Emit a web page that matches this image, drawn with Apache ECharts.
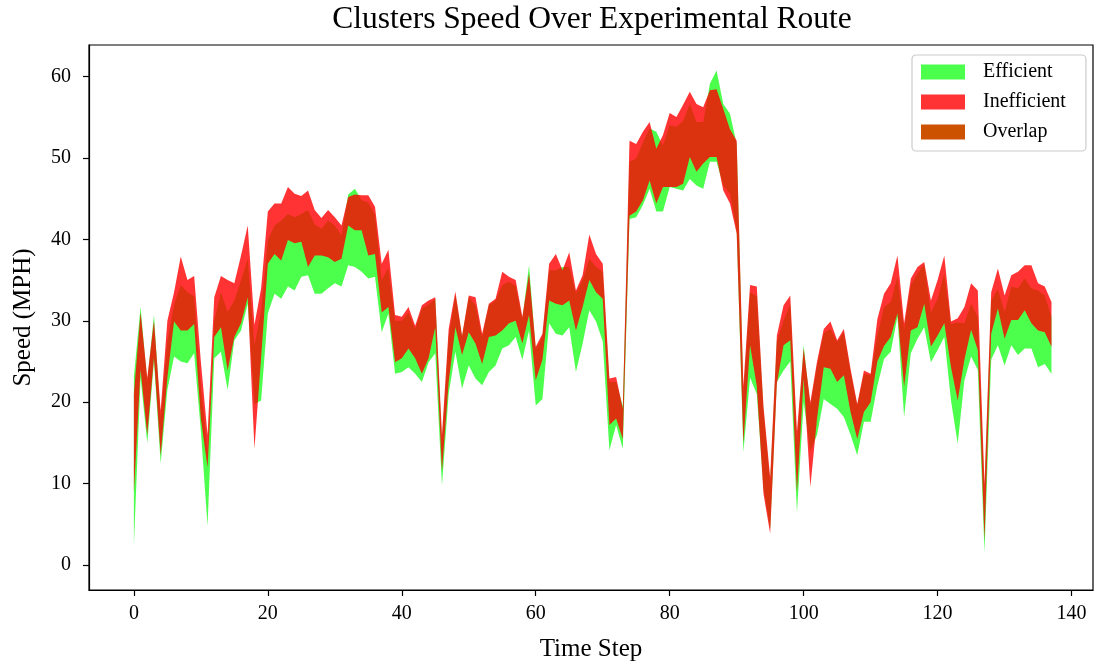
<!DOCTYPE html>
<html>
<head>
<meta charset="utf-8">
<script src="https://cdn.jsdelivr.net/npm/echarts@6/dist/echarts.min.js"></script>
<style>
  html, body { margin: 0; padding: 0; background: #fff; }
  #chart { width: 1096px; height: 664px; }
</style>
</head>
<body>
<div id="chart"></div>
<script>
// ---- Data (time step = array index) ----
const efficientLow = [
  2.4, 23, 15, 25, 12.5, 21.5, 25.6, 25, 24.8, 26,
  16.5, 4.8, 25.4, 26.2, 21.5, 27.6, 28.8, 32.1, 19.8, 20.2,
  30.9, 33.3, 32.7, 34.2, 33.7, 35.4, 35.6, 33.3, 33.3, 34,
  34.6, 34.2, 36.8, 36.6, 36, 35.2, 35.4, 28.6, 30.9, 23.5,
  23.7, 24.3, 23.5, 22.5, 24.9, 26, 9.8, 21, 26.2, 21.7,
  24.5, 22.9, 22.1, 23.7, 24.5, 26.6, 27, 28, 25.2, 28.8,
  19.6, 20.4, 29.7, 28.4, 28.2, 29.2, 23.7, 27.2, 31.3, 29.9,
  27.5, 14.1, 17.2, 14.3, 42.5, 42.7, 44.2, 46.2, 43.4, 43.4,
  46.4, 46.2, 46, 47.4, 46.6, 46.2, 49.5, 49.5, 46.6, 45.6,
  41.1, 13.9, 23, 21, 9.5, 4.5, 22.5, 23.9, 25, 6.5,
  20, 14, 16, 20.4, 19.8, 19.2, 18.2, 16, 13.5, 17.6,
  17.6, 22, 25.3, 26.2, 30.5, 18.2, 26, 27.8, 29.2, 24.9,
  26.4, 28, 20.2, 14.9, 22.7, 25.6, 24, 1.6, 25.2, 27,
  24.5, 27, 25.8, 26.6, 26.6, 24.3, 24.7, 23.5
];
const efficientHigh = [
  23.1, 31.7, 22.5, 30.7, 18, 27.5, 32, 34.4, 33.5, 33,
  22, 14, 30, 33.5, 31.1, 32.5, 35, 37.6, 27, 31.3,
  39.9, 41.7, 42.3, 43.1, 42.7, 43.1, 43.6, 41.8, 41.3, 42.3,
  41.7, 40.5, 45.5, 46.2, 44.8, 44.5, 43, 35, 36.5, 30,
  30, 31, 29, 31.5, 32, 32.7, 15, 28, 33.2, 28,
  32.9, 31.9, 28, 31.9, 32.5, 34.4, 34.8, 34.3, 30.2, 36.8,
  26.5, 28, 36.2, 36.2, 36.6, 36.6, 33.4, 35, 37.6, 36.6,
  36, 22.5, 22.5, 19.5, 49.5, 49.9, 51.9, 53.6, 53.2, 51.5,
  54, 53.8, 54.5, 56.6, 54.4, 54.4, 59.1, 60.7, 56.6, 55.4,
  51.7, 21, 33.5, 33, 19, 10, 27.5, 30, 32, 15,
  27, 19.5, 24.5, 28.5, 29, 27.4, 28.6, 23.7, 19.6, 23.5,
  23.3, 28.2, 31.7, 32.3, 35.4, 29, 34.4, 35.8, 36.9, 31,
  32.7, 35.8, 29.6, 29.8, 29.7, 32.1, 30.5, 9, 32.5, 33.9,
  31.1, 34.2, 34, 35.2, 34, 33.7, 33.1, 30.5
];
const inefficientLow = [
  9, 24, 16, 25.5, 13.5, 23, 29.9, 28.8, 28.8, 29.6,
  18, 12, 28, 29.2, 23.9, 28, 29.7, 32.9, 14.3, 25.5,
  37, 38.2, 37.4, 39.9, 39.5, 39.7, 36.6, 38, 38, 37.8,
  37.2, 37.6, 41.7, 41.1, 41.1, 38, 38.2, 31, 31.7, 24.9,
  25.4, 26.6, 25.4, 23.5, 25.4, 29.2, 11.5, 22.5, 29.2, 25.8,
  28.6, 27.2, 24.7, 28, 28.2, 28.8, 29.7, 30, 27.2, 30.7,
  22.7, 25.2, 32.5, 32.1, 31.9, 32.5, 28.8, 31.7, 35, 33.5,
  32.7, 17.2, 18, 15.5, 42.9, 43.4, 44.8, 47.2, 44.4, 46.4,
  46.4, 46.4, 46.8, 50.1, 48.3, 49.3, 50.1, 50.1, 46, 44.4,
  40.7, 15, 27, 22, 8.8, 3.9, 22.3, 27, 27.6, 9,
  22.9, 9.6, 18, 24.3, 24.1, 22.5, 23.3, 18.8, 15.5, 18.8,
  20, 25, 26.9, 28, 30.9, 21.9, 28.8, 29.2, 32.1, 26.8,
  28.2, 29.7, 24.3, 20.2, 25.2, 28.9, 26.4, 3.1, 28.4, 31.5,
  27.8, 30.1, 30.1, 31.3, 29.7, 28.8, 28.6, 26.8
];
const inefficientHigh = [
  21, 31, 23, 30, 19, 30, 33.5, 37.9, 35, 35.5,
  25, 16, 32.9, 35.5, 35, 34.6, 38, 41.7, 29.5, 34,
  43.4, 44.4, 44.4, 46.4, 45.6, 45.3, 46, 43.6, 42.6, 43.6,
  42.7, 41.7, 45.2, 45.5, 45.4, 45.4, 44, 37, 38.7, 30.7,
  30.5, 31.7, 29.4, 31.9, 32.5, 32.9, 16, 29, 33.6, 28.2,
  33.1, 32.9, 28.4, 32.1, 32.7, 36, 35.4, 35, 30.5, 35.8,
  26.8, 28.4, 37, 38.2, 36.2, 38.4, 33.7, 35.6, 40.6, 38.2,
  37, 22.9, 23.1, 19.2, 52.1, 51.7, 53.2, 54.4, 51.1, 52.8,
  55.5, 55, 56.5, 58.1, 56.6, 56.2, 58.3, 58.4, 56, 53.5,
  52.1, 22, 34.4, 34.2, 19.5, 10.8, 28.2, 31.9, 33.1, 16.4,
  26.6, 20, 25, 29, 29.9, 27.6, 29, 24.1, 19.8, 23.9,
  23.5, 30.2, 33.3, 34.6, 38, 29.7, 35.2, 36.6, 37.2, 32.5,
  35, 38, 29.9, 30.3, 31.7, 34.6, 33.7, 10, 33.5, 36.4,
  33.1, 35.6, 36, 36.8, 36.8, 34.6, 34.2, 32.3
];
const xTicks = [0, 20, 40, 60, 80, 100, 120, 140];
const yTicks = [0, 10, 20, 30, 40, 50, 60];

// ---- Series data: [timeStep, low, high] ----
const rows = (lo, hi) => lo.map((v, i) => [i, v, hi[i]]);

// Draw a band (fill between low and high) as one polygon through the axis scales
function makeBand(name, lo, hi, fill, opacity, legendColor) {
  const data = rows(lo, hi);
  return {
    name: name,
    type: 'custom',
    data: data,
    encode: { x: 0, y: [1, 2] },
    itemStyle: { color: legendColor },
    silent: true,
    renderItem: function (params, api) {
      if (params.dataIndex !== 0) return null;
      const upper = data.map(r => api.coord([r[0], r[2]]));
      const lower = data.map(r => api.coord([r[0], r[1]])).reverse();
      return {
        type: 'polygon',
        shape: { points: upper.concat(lower) },
        style: { fill: fill, opacity: opacity, stroke: null }
      };
    }
  };
}

const FONT = "'Liberation Serif', 'DejaVu Serif', serif";

const chart = echarts.init(document.getElementById('chart'), null, { renderer: 'canvas' });
chart.setOption({
  backgroundColor: '#ffffff',
  animation: false,
  title: {
    text: 'Clusters Speed Over Experimental Route',
    left: 592,
    top: 4,
    textAlign: 'center',
    padding: 0,
    textStyle: { fontFamily: FONT, fontSize: 31.5, fontWeight: 'normal', color: '#000' }
  },
  legend: {
    data: ['Efficient', 'Inefficient', 'Overlap'],
    orient: 'vertical',
    left: 912,
    top: 55,
    icon: 'rect',
    itemWidth: 44,
    itemHeight: 15,
    itemGap: 10,
    padding: [7, 20, 9, 9],
    backgroundColor: '#ffffff',
    borderColor: '#cccccc',
    borderWidth: 1.2,
    borderRadius: 4,
    textStyle: { fontFamily: FONT, fontSize: 20, color: '#000', padding: [0, 0, 0, 13] }
  },
  grid: {
    left: 89, right: 3, top: 45, bottom: 74,
    show: true, borderColor: '#000', borderWidth: 1.2,
    backgroundColor: 'transparent',
    outerBoundsMode: 'none'
  },
  xAxis: {
    type: 'value',
    min: -6.7,
    max: 143.2,
    name: 'Time Step',
    nameLocation: 'middle',
    nameGap: 47,
    nameTextStyle: { fontFamily: FONT, fontSize: 25, color: '#000' },
    splitLine: { show: false },
    axisLine: { show: true, onZero: false, lineStyle: { color: '#000', width: 1.2 } },
    axisTick: { show: true, length: 6, customValues: xTicks, lineStyle: { color: '#000', width: 1.2 } },
    axisLabel: { customValues: xTicks, fontFamily: FONT, fontSize: 20, color: '#000', margin: 14 }
  },
  yAxis: {
    type: 'value',
    min: -3.04,
    max: 63.84,
    name: 'Speed (MPH)',
    nameLocation: 'middle',
    nameGap: 53,
    nameRotate: 90,
    nameTextStyle: { fontFamily: FONT, fontSize: 25, color: '#000' },
    splitLine: { show: false },
    axisLine: { show: true, onZero: false, lineStyle: { color: '#000', width: 1.2 } },
    axisTick: { show: true, length: 6, customValues: yTicks, lineStyle: { color: '#000', width: 1.2 } },
    axisLabel: { customValues: yTicks, fontFamily: FONT, fontSize: 20, color: '#000', margin: 18 }
  },
  series: [
    makeBand('Efficient', efficientLow, efficientHigh, '#00ff00', 0.7, '#4dff4d'),
    makeBand('Inefficient', inefficientLow, inefficientHigh, '#ff0000', 0.8, '#ff3333'),
    {
      name: 'Overlap', type: 'line', data: [],
      symbol: 'none', lineStyle: { width: 0 },
      itemStyle: { color: '#cc5200' }
    }
  ]
});
</script>
</body>
</html>
